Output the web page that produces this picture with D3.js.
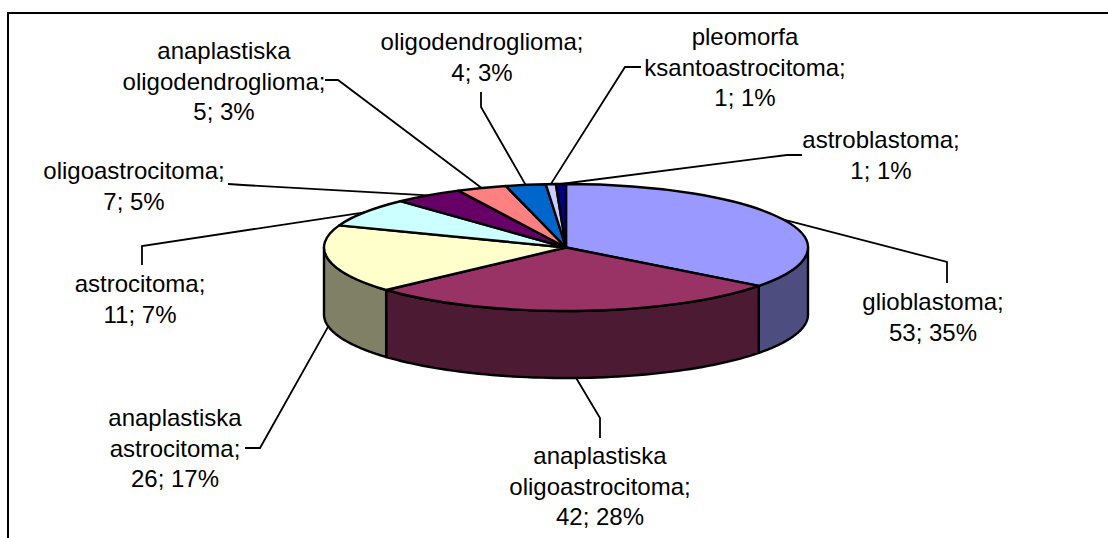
<!DOCTYPE html>
<html>
<head>
<meta charset="utf-8">
<script src="https://cdnjs.cloudflare.com/ajax/libs/d3/7.8.5/d3.min.js"></script>
<style>
  html, body { margin: 0; padding: 0; background: #fff; }
  svg { display: block; }
  text { font-family: "Liberation Sans", Arial, sans-serif; font-size: 24px; fill: #000; }
</style>
</head>
<body>
<svg width="1108" height="538"></svg>
<script>
const categories = ["glioblastoma;", "anaplastiska oligoastrocitoma;", "anaplastiska astrocitoma;",
  "astrocitoma;", "oligoastrocitoma;", "anaplastiska oligodendroglioma;", "oligodendroglioma;",
  "pleomorfa ksantoastrocitoma;", "astroblastoma;"];
const values = [53, 42, 26, 11, 7, 5, 4, 1, 1];
const percents = [35, 28, 17, 7, 5, 3, 3, 1, 1];
const colors = ["#9999ff", "#993366", "#ffffcc", "#ccffff", "#660066", "#ff8080", "#0066cc", "#ccccff", "#000080"];

// label layout: centre x, y of first line, bend of the leader, start of the leader
const labelX = [933, 600, 175, 140, 134, 224, 482, 745, 881];
const labelY = [302, 456, 418, 284, 171, 51, 42, 37, 140];
const leaderBend = [[947, 262], [600, 418], [260, 448], [142, 246], [243, 185], [338, 80], [481, 107], [625, 67], [787, 155]];
const leaderStart = [[947, 283], [600, 438], [245, 448], [142, 265], [228, 184], [325, 80], [481, 92], [641, 67], [802, 155]];

const cx = 566, cy = 247.5, rx = 242, ry = 63.5, depth = 67, lineHeight = 30.5;

const svg = d3.select("svg");

// frame, open on the right and at the bottom
svg.append("path")
   .attr("d", "M8,538V13H1108")
   .attr("fill", "none")
   .attr("stroke", "#000")
   .attr("stroke-width", 2);

const slices = d3.pie().sort(null).startAngle(0).endAngle(2 * Math.PI)(values);

const px = a => cx + rx * Math.sin(a);
const py = a => cy - ry * Math.cos(a);

// side wall, only the front half of the disc shows
const wall = slices.map((s, i) => {
  const a0 = Math.max(s.startAngle, Math.PI / 2);
  const a1 = Math.min(s.endAngle, 3 * Math.PI / 2);
  return { i, a0, a1 };
}).filter(d => d.a1 > d.a0);

svg.append("g").selectAll("path")
  .data(wall)
  .enter().append("path")
    .attr("d", d => {
      const angles = d3.range(0, 61).map(k => d.a0 + (d.a1 - d.a0) * k / 60);
      const top = angles.map(a => [px(a), py(a)]);
      const bottom = angles.slice().reverse().map(a => [px(a), py(a) + depth]);
      return d3.line()(top.concat(bottom)) + "Z";
    })
    .attr("fill", d => {
      const c = d3.rgb(colors[d.i]);
      return d3.rgb(c.r / 2, c.g / 2, c.b / 2);
    })
    .attr("stroke", "#000")
    .attr("stroke-width", 2.4)
    .attr("stroke-linejoin", "round");

const arc = d3.arc().innerRadius(0).outerRadius(rx);

svg.append("g")
    .attr("transform", `translate(${cx},${cy}) scale(1,${ry / rx})`)
  .selectAll("path")
  .data(slices)
  .enter().append("path")
    .attr("d", arc)
    .attr("fill", (d, i) => colors[i])
    .attr("stroke", "#000")
    .attr("stroke-width", 2.4)
    .attr("stroke-linejoin", "round")
    .attr("vector-effect", "non-scaling-stroke");

// leader lines end on the rim at the middle of each slice
svg.append("g").selectAll("path")
  .data(slices)
  .enter().append("path")
    .attr("d", (d, i) => {
      const mid = (d.startAngle + d.endAngle) / 2;
      const front = Math.cos(mid) < 0 && Math.sin(mid) > -0.99;
      const end = [px(mid), py(mid) + (front ? depth : 0)];
      return d3.line()([leaderStart[i], leaderBend[i], end]);
    })
    .attr("fill", "none")
    .attr("stroke", "#000")
    .attr("stroke-width", 1.8);

const labels = svg.append("g").attr("text-anchor", "middle").selectAll("text")
  .data(categories)
  .enter().append("text");

labels.each(function(name, i) {
  let lines = [name];
  if (name.startsWith("anaplastiska ")) lines = ["anaplastiska", name.slice(13)];
  if (name.startsWith("pleomorfa ")) lines = ["pleomorfa", name.slice(10)];
  lines.push(`${values[i]}; ${percents[i]}%`);
  d3.select(this).selectAll("tspan")
    .data(lines)
    .enter().append("tspan")
      .attr("x", labelX[i])
      .attr("y", (l, k) => labelY[i] + k * lineHeight)
      .attr("dy", "0.35em")
      .text(l => l);
});
</script>
</body>
</html>
